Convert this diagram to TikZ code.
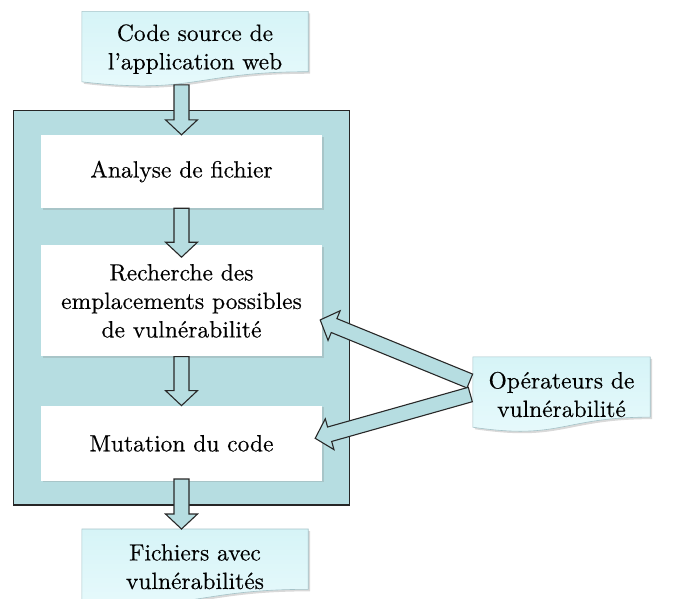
\documentclass[tikz,border=0pt]{standalone}
\usepackage{fontspec}
\setmainfont{lmroman10-regular.otf}[FakeBold=0.4]
\usepackage{tikz}
\usetikzlibrary{positioning,calc,fit,backgrounds,shadows}

\definecolor{frameteal}{RGB}{182,221,225}
\definecolor{paperTop}{RGB}{214,244,247}
\definecolor{paperBot}{RGB}{232,250,252}
\definecolor{paperline}{RGB}{165,195,200}
\definecolor{arrowline}{RGB}{40,40,40}

\newcommand{\boxfont}{\fontsize{23.5}{28.5}\selectfont}

% paper sheet with a wavy lower edge, drawn behind a node
\newcommand{\docshape}[1]{%
  \path[docpaper] (#1.north west) -- (#1.north east)
    -- ($(#1.north east)!0.8!(#1.south east)$)
    .. controls ($(#1.north)!0.8!(#1.south)$) and ($(#1.north)!1.107!(#1.south)$)
    .. ($(#1.north west)!0.934!(#1.south west)$) -- cycle;}

% wide outlined arrow from #1 to #2
\newcommand{\fatarrow}[2]{%
  \coordinate (fa-h) at ($(#2)!15pt!(#1)$);
  \path[blockarrow] ($(#1)!7.5pt!90:(#2)$) -- ($(fa-h)!7.5pt!-90:(#1)$)
    -- ($(fa-h)!16pt!-90:(#1)$) -- (#2) -- ($(fa-h)!16pt!90:(#1)$)
    -- ($(fa-h)!7.5pt!90:(#1)$) -- ($(#1)!7.5pt!-90:(#2)$) -- cycle;}

\begin{document}
\begin{tikzpicture}[x=1pt,y=-1pt,
stepbox/.style={rectangle, align=center, fill=white, minimum width=281pt, inner sep=2pt, font=\boxfont, drop shadow={shadow xshift=1.5pt, shadow yshift=-1.5pt, opacity=0.25}},
docnode/.style={rectangle, align=center, minimum width=226pt, minimum height=75pt, inner sep=2pt, font=\boxfont},
docpaper/.style={draw=paperline, line width=0.6pt, top color=paperTop, bottom color=paperBot, drop shadow={shadow xshift=2pt, shadow yshift=-2pt, opacity=0.3}},
frame/.style={rectangle, draw=black!85, line width=1.3pt, fill=frameteal},
blockarrow/.style={draw=arrowline, line width=1.1pt, fill=frameteal, line join=miter},
]
\useasboundingbox (0,0) rectangle (674,598);

%Nodes
\node[stepbox, minimum height=73pt](Analyse) at (181.5,171.5){Analyse de fichier};
\node[stepbox, minimum height=111pt](Recherche)[below=37pt of Analyse]{Recherche des\\emplacements possibles\\de vulnérabilité};
\node[stepbox, minimum height=75pt](Mutation)[below=49pt of Recherche]{Mutation du code};
\node[docnode](Source)[above=48pt of Analyse, xshift=13.5pt]{Code source de\\l’application web};
\node[docnode](Fichiers)[below=48pt of Mutation, xshift=13.5pt]{Fichiers avec\\vulnérabilités};
\node[docnode, minimum width=177pt](Operateurs) at (561.5,394.5){Opérateurs de\\vulnérabilité};

%Background
\begin{scope}[on background layer]
\node[frame, fit=(Analyse)(Recherche)(Mutation), inner xsep=27.5pt, inner ysep=24pt](Cadre){};
\docshape{Source}
\docshape{Fichiers}
\docshape{Operateurs}
\end{scope}

%Lines
\coordinate (s1) at ([yshift=2pt]Analyse.north |- Source.south);
\coordinate (e2) at ([yshift=-12pt]Recherche.north);
\coordinate (s4) at ([yshift=2pt]Mutation.south);
\coordinate (e4) at (Mutation.south |- Fichiers.north);
\coordinate (o1) at ([shift={(-3pt,13.5pt)}]Operateurs.west);
\coordinate (o2) at ([xshift=-2.5pt]Operateurs.west);
\coordinate (r1) at ([shift={(-2pt,-19pt)}]Recherche.east);
\coordinate (m1) at ([shift={(-7pt,5pt)}]Mutation.east);
\fatarrow{s1}{Analyse.north}
\fatarrow{Analyse.south}{e2}
\fatarrow{Recherche.south}{Mutation.north}
\fatarrow{s4}{e4}
\fatarrow{o1}{r1}
\fatarrow{o2}{m1}
\end{tikzpicture}
\end{document}
